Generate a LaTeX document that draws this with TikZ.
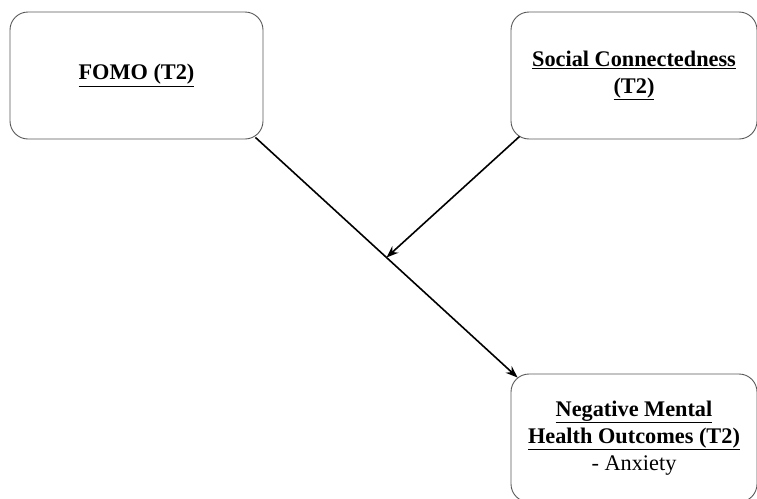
\documentclass[tikz,border=0pt]{standalone}
\usepackage{fontspec}
\setmainfont{Liberation Serif}
\usetikzlibrary{calc,arrows.meta}
\begin{document}
\begin{tikzpicture}[x=1pt,y=-1pt,
  box/.style={draw=black!65, line width=0.9pt, rounded corners=18pt, align=center,
    font=\fontsize{22.3}{27}\selectfont, inner sep=0pt},
  arr/.style={-{Stealth[length=12pt,width=9pt]}, line width=1.6pt}]
\useasboundingbox (0,0) rectangle (757,498);
\node[box, minimum width=253pt, minimum height=127pt] (fomo) at (136.5,75.5)
  {\textbf{\underline{FOMO (T2)}}};
\node[box, minimum width=246pt, minimum height=127pt] (soc) at (634,75.5)
  {\textbf{\underline{Social Connectedness}}\\\textbf{\underline{(T2)}}};
\node[box, minimum width=246pt, minimum height=128pt] (neg) at (634,438)
  {\textbf{\underline{Negative Mental}}\\\textbf{\underline{Health Outcomes (T2)}}\\- Anxiety};
\coordinate (a1) at ($(fomo.south east)+(-8,-2)$);
\coordinate (a2) at ($(neg.north west)+(7,4)$);
\coordinate (mid) at ($(a1)!0.5!(a2)$);
\coordinate (s1) at ($(soc.south west)+(9,-3)$);
\draw[arr] (a1) -- (a2);
\draw[arr] (s1) -- (mid);
\end{tikzpicture}
\end{document}
